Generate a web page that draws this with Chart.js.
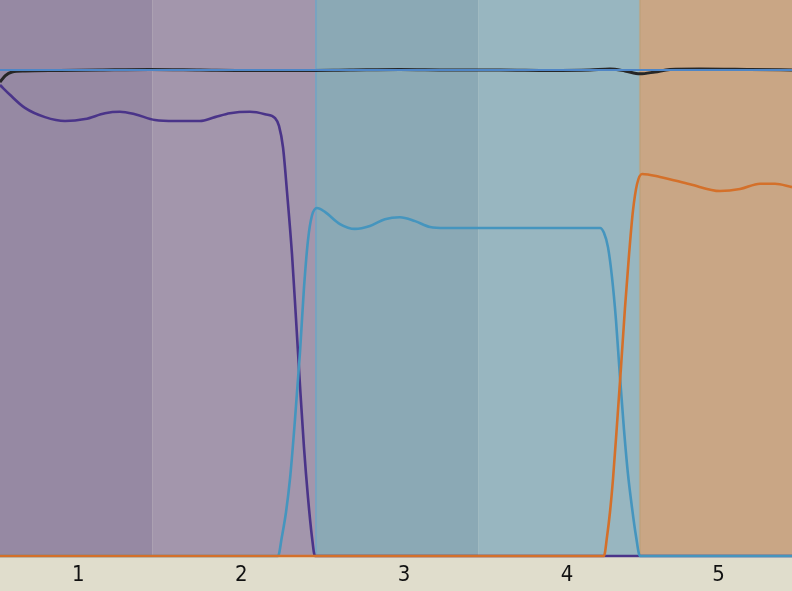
<!DOCTYPE html>
<html lang="en">
<head>
    <meta charset="UTF-8">
    <title>Bands</title>
    <script src="https://cdn.jsdelivr.net/npm/chart.js"></script>
    <style>
        html, body { margin: 0; padding: 0; background: #e0ddcc; }
        #c { display: block; }
    </style>
</head>
<body>
    <canvas id="c" width="792" height="591"></canvas>
<script>
    // axis
    const xMin = 0.52, xMax = 5.38;
    const tickPos = [1, 2, 3, 4, 4.93];
    const tickLabels = ["1", "2", "3", "4", "5"];

    // background bands: start, end, colour
    const bandStart = [0.52, 1.454, 2.453, 3.454, 4.447];
    const bandEnd   = [1.454, 2.453, 3.454, 4.447, 5.38];
    const bandColor = ['#9689a3', '#a396ac', '#8ba9b5', '#98b6c0', '#c9a685'];

    // purple curve
    const purpleX = [0.520,0.581,0.673,0.796,0.919,1.042,1.164,1.256,1.348,1.471,1.594,1.747,1.839,1.931,2.054,2.146,2.208,2.232,2.257,2.281,2.312,2.336,2.361,2.385,2.410,2.434,2.453,5.380];
    const purpleY = [0.969,0.949,0.922,0.903,0.895,0.899,0.911,0.914,0.909,0.897,0.895,0.895,0.903,0.911,0.914,0.909,0.901,0.885,0.84,0.75,0.62,0.49,0.35,0.225,0.12,0.04,0,0];

    // blue curve
    const blueX = [0.520,2.226,2.250,2.275,2.300,2.330,2.361,2.385,2.410,2.434,2.465,2.514,2.606,2.698,2.790,2.882,2.974,3.067,3.159,3.251,4.202,4.226,4.251,4.275,4.300,4.324,4.349,4.373,4.398,4.423,4.447,5.380];
    const blueY = [0,0,0.04,0.09,0.16,0.28,0.42,0.55,0.65,0.70,0.716,0.708,0.683,0.673,0.679,0.693,0.697,0.689,0.677,0.675,0.675,0.665,0.635,0.575,0.485,0.37,0.26,0.17,0.10,0.04,0,0];

    // orange curve
    const orangeX = [0.520,4.226,4.245,4.263,4.282,4.306,4.331,4.355,4.380,4.404,4.429,4.460,4.570,4.754,4.938,5.061,5.184,5.276,5.380];
    const orangeY = [0,0,0.04,0.09,0.16,0.27,0.39,0.51,0.62,0.71,0.765,0.786,0.780,0.765,0.751,0.755,0.766,0.766,0.759];

    // black (sum) curve
    const sumX = [0.520,0.551,0.594,0.673,0.888,1.134,1.440,1.747,2.054,2.361,2.668,2.974,3.281,3.588,3.895,4.140,4.263,4.355,4.447,4.539,4.631,4.815,5.122,5.380];
    const sumY = [0.975,0.988,0.996,0.998,0.999,1.0,1.001,1.0,0.999,0.999,1.0,1.001,1.0,1.0,0.999,1.0,1.002,0.998,0.992,0.996,1.001,1.002,1.001,1.0];

    // flat reference line
    const refX = [0.52, 5.38];
    const refY = [1, 1];

    function pts(xs, ys) {
        return xs.map((x, i) => ({x: x, y: ys[i]}));
    }

    const bandsPlugin = {
        id: 'bands',
        beforeDatasetsDraw(chart) {
            const {ctx, chartArea, scales} = chart;
            ctx.save();
            for (let i = 0; i < bandStart.length; i++) {
                let x0 = scales.x.getPixelForValue(bandStart[i]);
                let x1 = scales.x.getPixelForValue(bandEnd[i]);
                ctx.fillStyle = bandColor[i];
                ctx.fillRect(x0, chartArea.top, x1 - x0, chartArea.bottom - chartArea.top);
            }
            // thin edges between the big groups
            ctx.fillStyle = 'rgba(110,160,200,0.6)';
            let e = scales.x.getPixelForValue(bandStart[2]);
            ctx.fillRect(e, chartArea.top, 2, chartArea.bottom - chartArea.top);
            ctx.fillStyle = 'rgba(190,160,120,0.6)';
            e = scales.x.getPixelForValue(bandStart[4]);
            ctx.fillRect(e - 1, chartArea.top, 2, chartArea.bottom - chartArea.top);
            ctx.restore();
        }
    };

    function line(label, data, color, width, order) {
        return {
            label: label,
            data: data,
            borderColor: color,
            borderWidth: width,
            pointRadius: 0,
            fill: false,
            cubicInterpolationMode: 'monotone',
            order: order,
            clip: false
        };
    }

    new Chart(document.getElementById('c'), {
        type: 'line',
        data: {
            datasets: [
                line('ref', pts(refX, refY), '#4f86c6', 2, 0),
                line('sum', pts(sumX, sumY), '#262626', 3, 1),
                line('orange', pts(orangeX, orangeY), '#d4702a', 2.6, 2),
                line('blue', pts(blueX, blueY), '#4595be', 2.6, 3),
                line('purple', pts(purpleX, purpleY), '#4a3489', 2.6, 4)
            ]
        },
        plugins: [bandsPlugin],
        options: {
            responsive: false,
            animation: false,
            layout: { padding: 0 },
            plugins: { legend: { display: false }, tooltip: { enabled: false } },
            scales: {
                x: {
                    type: 'linear',
                    min: xMin,
                    max: xMax,
                    grid: { display: false, drawTicks: false },
                    border: { display: false },
                    afterBuildTicks: s => { s.ticks = tickPos.map(v => ({value: v})); },
                    afterFit: s => { s.height = 35; },
                    ticks: {
                        autoSkip: false,
                        maxRotation: 0,
                        padding: 6,
                        color: '#111',
                        font: { family: '"DejaVu Sans Condensed", "DejaVu Sans", sans-serif', size: 22 },
                        callback: (v, i) => tickLabels[i]
                    }
                },
                y: {
                    display: false,
                    min: 0,
                    max: 1.144
                }
            }
        }
    });
</script>
</body>
</html>
